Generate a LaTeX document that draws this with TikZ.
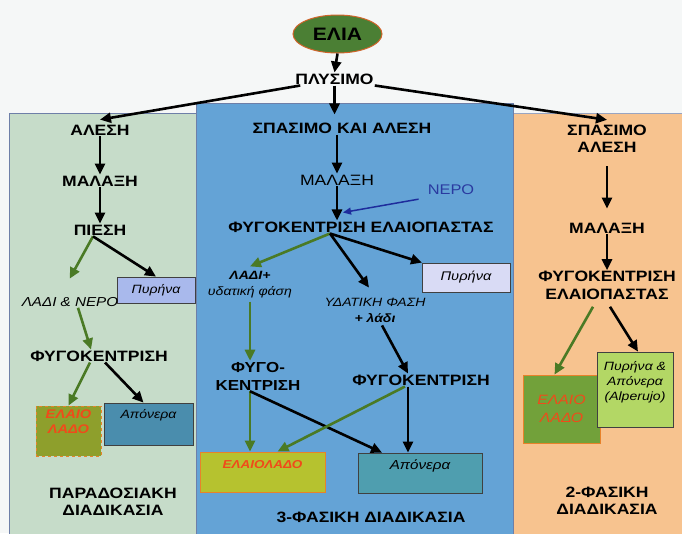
\documentclass[tikz,border=0pt]{standalone}
\usepackage{fontspec}
\setmainfont{Liberation Sans}[FakeStretch=1.17]
\usetikzlibrary{arrows.meta,shapes.geometric}
\definecolor{bgcol}{HTML}{F5F7F7}
\definecolor{leftcol}{HTML}{C6DCC9}
\definecolor{midcol}{HTML}{64A3D6}
\definecolor{rightcol}{HTML}{F7C38F}
\definecolor{olivefill}{HTML}{4B7F34}
\definecolor{ellborder}{HTML}{D0642A}
\definecolor{arrgreen}{HTML}{4A7A25}
\definecolor{arrblue}{HTML}{1E2C9C}
\definecolor{nerocol}{HTML}{2A3AA0}
\definecolor{oilred}{HTML}{F04A1A}
\definecolor{oilorange}{HTML}{E8822A}
\definecolor{pyrleft}{HTML}{A9B9EC}
\definecolor{pyrmid}{HTML}{D9DBF5}
\definecolor{oilleft}{HTML}{8E9F2C}
\definecolor{oilmid}{HTML}{B6C22F}
\definecolor{oilright}{HTML}{72A13A}
\definecolor{apoleft}{HTML}{4A8DAD}
\definecolor{apomid}{HTML}{4F9EAF}
\definecolor{alpcol}{HTML}{B3D765}
\definecolor{panelline}{HTML}{6E7FA8}
\begin{document}
\begin{tikzpicture}[x=1pt,y=-1pt,
  bl/.style={font=\fontsize{15}{17.5}\selectfont\bfseries, inner sep=1pt, align=center},
  rg/.style={font=\fontsize{15}{17.5}\selectfont, inner sep=1pt, align=center},
  it/.style={font=\fontsize{13}{15.5}\selectfont\itshape, inner sep=1pt, align=center},
  arr/.style={-{Triangle[length=11pt,width=10pt]}, line width=2.6pt, draw=black},
  garr/.style={arr, draw=arrgreen},
  barr/.style={-{Triangle[length=8pt,width=7pt]}, line width=1.5pt, draw=arrblue},
  box/.style={draw=black!75, line width=0.8pt, inner sep=2pt, align=center},
  oilbox/.style={draw=oilorange, line width=0.8pt, inner sep=2pt, align=center,
     font=\fontsize{12.5}{15}\selectfont\bfseries\itshape, text=oilred}]
\useasboundingbox (0,0) rectangle (682,533);
\fill[bgcol] (0,0) rectangle (682,533);
% panels
\filldraw[fill=leftcol, draw=panelline, line width=0.8pt] (9,113) rectangle (197,534);
\filldraw[fill=rightcol, draw=panelline!70, line width=0.8pt] (513,113) rectangle (683,534);
\filldraw[fill=midcol, draw=panelline, line width=0.8pt] (196,103) rectangle (513,534);

% top
\node[ellipse, fill=olivefill, draw=ellborder, line width=1pt, minimum width=89pt, minimum height=38pt,
      font=\fontsize{18}{20}\selectfont\bfseries, inner sep=0pt] (elia) at (337.5,34) {ΕΛΙΑ};
\node[bl] (plysimo) at (334.5,79) {ΠΛΥΣΙΜΟ};

% left column
\node[bl] (alesi1) at (100,130) {ΑΛΕΣΗ};
\node[bl] (malaxi1) at (100,181) {ΜΑΛΑΞΗ};
\node[bl] (piesi1) at (100,230) {ΠΙΕΣΗ};
\node[box, fill=pyrleft, minimum width=78pt, minimum height=26pt,
      font=\fontsize{12}{14}\selectfont\itshape] (pyr1) at (156,290) {Πυρήνα};
\node[it] (lnero) at (70,302) {ΛΑΔΙ \& ΝΕΡΟ};
\node[bl] (fyg1) at (99,356) {ΦΥΓΟΚΕΝΤΡΙΣΗ};
\node[oilbox, dashed, fill=oilleft, minimum width=65pt, minimum height=50pt] (oil1) at (68.5,431) {ΕΛΑΙΟ\\ΛΑΔΟ\\[4pt]};
\node[box, fill=apoleft, minimum width=89pt, minimum height=42pt,
      font=\fontsize{12}{14}\selectfont\itshape] (apo1) at (148.5,424) {Απόνερα\\[6pt]};
\node[bl] (trad) at (113,502) {ΠΑΡΑΔΟΣΙΑΚΗ\\ΔΙΑΔΙΚΑΣΙΑ};

% middle column
\node[bl] (spas2) at (342,128) {ΣΠΑΣΙΜΟ ΚΑΙ ΑΛΕΣΗ};
\node[rg] (malaxi2) at (337,180) {ΜΑΛΑΞΗ};
\node[rg, text=nerocol, font=\fontsize{14}{16}\selectfont] (nero) at (451,190) {ΝΕΡΟ};
\node[bl] (fyg2) at (361,227) {ΦΥΓΟΚΕΝΤΡΙΣΗ ΕΛΑΙΟΠΑΣΤΑΣ};
\node[box, fill=pyrmid, minimum width=88pt, minimum height=29pt,
      font=\fontsize{12.5}{14}\selectfont\itshape] (pyr2) at (466,277.5) {Πυρήνα};
\node[it, font=\fontsize{12}{16}\selectfont\itshape] (ladi2) at (250,285) {\textbf{ΛΑΔΙ+}\\υδατική φάση};
\node[it, font=\fontsize{12}{16}\selectfont\itshape] (ydat2) at (375,310) {ΥΔΑΤΙΚΗ ΦΑΣΗ\\\textbf{+ λάδι}};
\node[bl, font=\fontsize{14.5}{18}\selectfont\bfseries] (fyg2a) at (258,376) {ΦΥΓΟ-\\ΚΕΝΤΡΙΣΗ};
\node[bl] (fyg2b) at (421,380) {ΦΥΓΟΚΕΝΤΡΙΣΗ};
\node[oilbox, fill=oilmid, minimum width=125pt, minimum height=40pt,
      font=\fontsize{11.5}{14}\selectfont\bfseries\itshape] (oil2) at (262.5,472) {ΕΛΑΙΟΛΑΔΟ\\[2pt]};
\node[box, fill=apomid, minimum width=124pt, minimum height=40pt,
      font=\fontsize{13}{15}\selectfont\itshape] (apo2) at (420,473) {Απόνερα\\[2pt]};
\node[bl] (three) at (371,517) {3-ΦΑΣΙΚΗ ΔΙΑΔΙΚΑΣΙΑ};

% right column
\node[bl] (spas3) at (607,139) {ΣΠΑΣΙΜΟ\\ΑΛΕΣΗ};
\node[bl] (malaxi3) at (607,228) {ΜΑΛΑΞΗ};
\node[bl] (fyg3) at (607,285.5) {ΦΥΓΟΚΕΝΤΡΙΣΗ\\ΕΛΑΙΟΠΑΣΤΑΣ};
\node[oilbox, fill=oilright, minimum width=77pt, minimum height=68pt,
      font=\fontsize{13.5}{18}\selectfont\itshape] (oil3) at (561.5,409) {ΕΛΑΙΟ\\ΛΑΔΟ};
\node[box, fill=alpcol, minimum width=76pt, minimum height=75pt,
      font=\fontsize{12}{15}\selectfont\itshape] (alp3) at (635,389.5) {Πυρήνα \&\\Απόνερα\\(Alperujo)\\[2pt]};
\node[bl] (two) at (607,501) {2-ΦΑΣΙΚΗ\\ΔΙΑΔΙΚΑΣΙΑ};

% connectors top
\draw[arr] (elia.south) -- (plysimo.north);
\draw[arr] ([xshift=6pt]plysimo.south west) -- ([yshift=4pt]alesi1.north);
\draw[arr, shorten >=7pt] (plysimo.south) -- (plysimo.south |- spas2.north);
\draw[arr] (plysimo.south east) -- ([yshift=4pt]spas3.north);

% left connectors
\draw[arr] (alesi1.south) -- (malaxi1.north);
\draw[arr] (malaxi1.south) -- (piesi1.north);
\draw[garr, shorten >=20pt] ([xshift=-7pt]piesi1.south) -- ([xshift=-10pt]lnero.north);
\draw[arr] ([xshift=-7pt]piesi1.south) -- (pyr1.north);
\draw[garr] ([xshift=8pt]lnero.south) -- ([xshift=-8pt]fyg1.north);
\draw[garr] ([xshift=-9pt]fyg1.south) -- (oil1.north);
\draw[arr] ([xshift=6pt]fyg1.south) -- ([xshift=-5pt]apo1.north);

% middle connectors
\coordinate (g2) at ([xshift=-8pt]fyg2a.south);
\draw[arr] (spas2.south -| malaxi2) -- (malaxi2.north);
\draw[arr] (malaxi2.south) -- (malaxi2.south |- fyg2.north);
\draw[barr] ([xshift=-8pt,yshift=-3pt]nero.south west) -- ([xshift=6pt,yshift=8pt]malaxi2.south |- fyg2.north);
\draw[garr] ([xshift=-31pt]fyg2.south) -- ([yshift=4pt]ladi2.north);
\draw[arr] ([xshift=-31pt]fyg2.south) -- ([xshift=-6pt,yshift=9pt]ydat2.north);
\draw[arr] ([xshift=-31pt]fyg2.south) -- ([xshift=-44pt]pyr2.north);
\draw[garr] ([yshift=-2pt]ladi2.south) -- ([xshift=-8pt]fyg2a.north);
\draw[arr] ([xshift=7pt,yshift=-2pt]ydat2.south) -- ([xshift=-13pt]fyg2b.north);
\draw[garr] (g2) -- (g2 |- oil2.north);
\draw[arr] (g2) -- ([xshift=-38pt]apo2.north);
\draw[garr] ([xshift=-16pt]fyg2b.south) -- ([xshift=15pt]oil2.north);
\draw[arr] ([xshift=-13pt]fyg2b.south) -- ([xshift=-12pt]apo2.north);

% right connectors
\draw[arr, shorten <=12pt, shorten >=13pt] (spas3.south) -- (malaxi3.north);
\draw[arr] (malaxi3.south) -- (fyg3.north);
\draw[garr] ([xshift=-14pt,yshift=-6pt]fyg3.south) -- ([xshift=-7pt]oil3.north);
\draw[arr] ([xshift=3pt,yshift=-6pt]fyg3.south) -- ([xshift=3pt]alp3.north);
\end{tikzpicture}
\end{document}
